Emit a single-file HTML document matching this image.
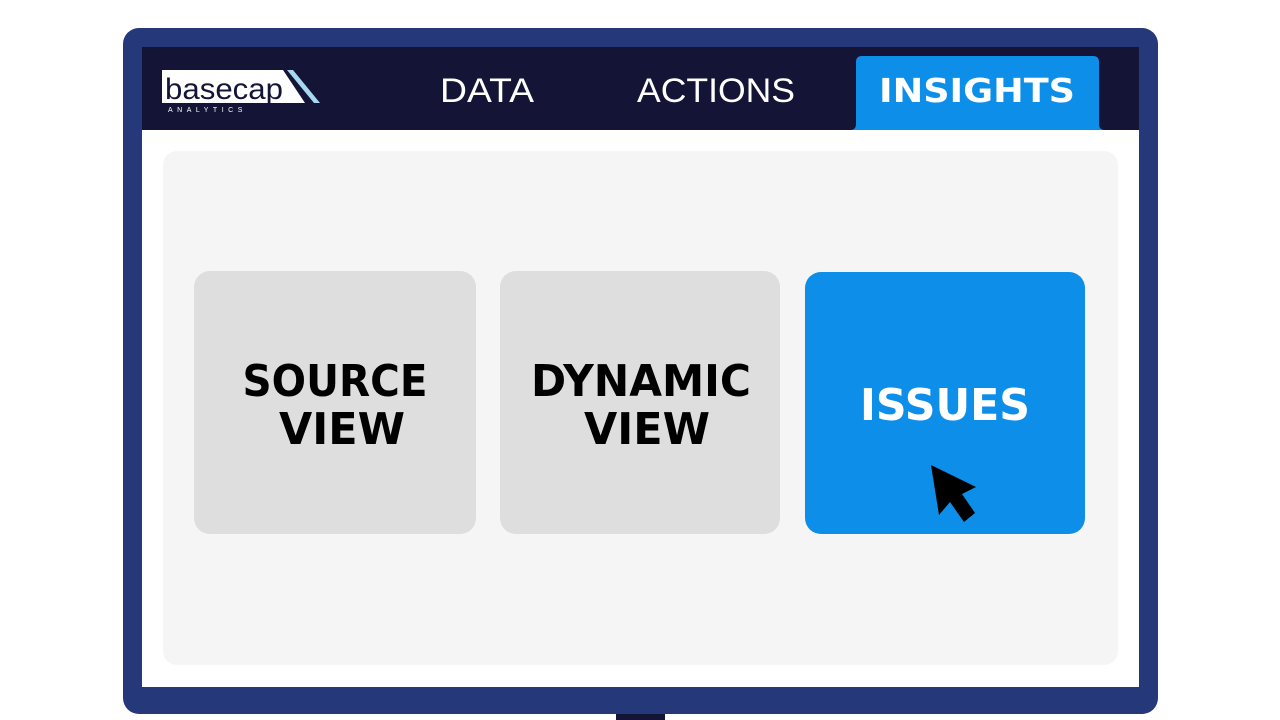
<!DOCTYPE html>
<html><head><meta charset="utf-8"><style>
html,body{margin:0;padding:0;background:#fff;}
svg{display:block}
</style></head><body>
<svg width="1280" height="720" viewBox="0 0 1280 720" xmlns="http://www.w3.org/2000/svg">
<rect width="1280" height="720" fill="#fff"/>
<rect x="616" y="700" width="49" height="20" fill="#131436"/>
<rect x="123" y="28" width="1035" height="686" rx="16" fill="#24387a"/>
<rect x="142" y="47" width="997" height="640" fill="#fff"/>
<rect x="142" y="47" width="997" height="83" fill="#131436"/>
<!-- logo -->
<polygon points="162,70 283,70 305,103 162,103" fill="#fff"/>
<polygon points="287,70 293,70 320,103 314,103" fill="#a8d8f0"/>
<text x="165" y="99" font-family="Liberation Sans, sans-serif" font-size="30" fill="#131436" textLength="118" lengthAdjust="spacingAndGlyphs">basecap</text>
<text x="168" y="112" font-family="Liberation Sans, sans-serif" font-size="7" fill="#fff" letter-spacing="4.5">ANALYTICS</text>
<text x="440" y="102" font-family="Liberation Sans, sans-serif" font-size="34" fill="#fff" textLength="94" lengthAdjust="spacingAndGlyphs">DATA</text>
<text x="637" y="102" font-family="Liberation Sans, sans-serif" font-size="34" fill="#fff" textLength="158" lengthAdjust="spacingAndGlyphs">ACTIONS</text>
<path d="M850,130 Q856,130 856,124 L856,62 Q856,56 862,56 L1093,56 Q1099,56 1099,62 L1099,124 Q1099,130 1105,130 Z" fill="#0d8ee9"/>
<text x="879" y="102" font-family="DejaVu Sans, sans-serif" font-weight="bold" font-size="33" fill="#fff" textLength="196" lengthAdjust="spacingAndGlyphs">INSIGHTS</text>
<rect x="163" y="151" width="955" height="514" rx="14" fill="#f5f5f5"/>
<rect x="194" y="271" width="282" height="263" rx="16" fill="#dedede"/>
<rect x="500" y="271" width="280" height="263" rx="16" fill="#dedede"/>
<rect x="805" y="272" width="280" height="262" rx="16" fill="#0d8ee9"/>
<g font-family="DejaVu Sans, sans-serif" font-weight="bold" font-size="44" text-anchor="middle">
<text x="335" y="396" fill="#000" textLength="185" lengthAdjust="spacingAndGlyphs">SOURCE</text>
<text x="342" y="444" fill="#000" textLength="126" lengthAdjust="spacingAndGlyphs">VIEW</text>
<text x="641" y="396" fill="#000" textLength="220" lengthAdjust="spacingAndGlyphs">DYNAMIC</text>
<text x="647" y="444" fill="#000" textLength="126" lengthAdjust="spacingAndGlyphs">VIEW</text>
<text x="945" y="420" fill="#fff" textLength="170" lengthAdjust="spacingAndGlyphs">ISSUES</text>
</g>
<polygon points="931,465 976,487 962,494 975,513 964,522 950,502 939,515" fill="#000"/>
</svg>
</body></html>
